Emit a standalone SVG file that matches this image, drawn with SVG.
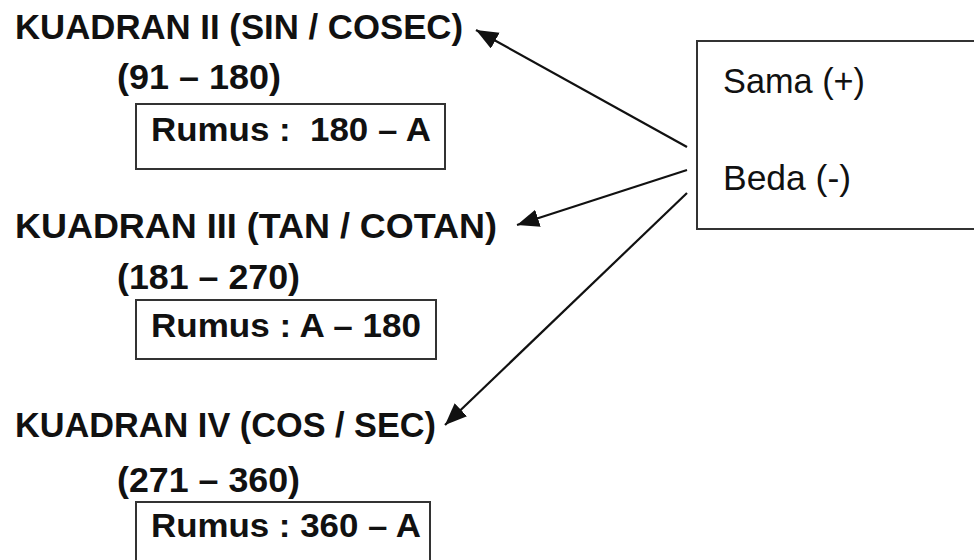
<svg xmlns="http://www.w3.org/2000/svg" width="974" height="560" viewBox="0 0 974 560">
  <style>
    .head { font-family: "Liberation Sans", Arial, sans-serif; font-weight: bold; font-size: 35px; fill: #111; }
    .range { font-family: "Liberation Sans", Arial, sans-serif; font-weight: bold; font-size: 35px; fill: #111; }
    .rumus { font-family: "Liberation Sans", Arial, sans-serif; font-weight: bold; font-size: 33px; fill: #111; white-space: pre; }
    .sign { font-family: "Liberation Sans", Arial, sans-serif; font-size: 35px; fill: #111; }
    .box { fill: #fff; stroke: #333; stroke-width: 2; }
    .link { stroke: #111; stroke-width: 2.2; fill: none; marker-end: url(#head); }
  </style>
  <defs>
    <marker id="head" markerUnits="userSpaceOnUse" markerWidth="24" markerHeight="20" refX="22" refY="9" orient="auto">
      <path d="M0,0 L22,9 L0,18 Z" fill="#111"/>
    </marker>
  </defs>
  <rect width="974" height="560" fill="#fff"/>

  <g id="kuadran-2">
    <text class="head" x="15" y="39" textLength="448" lengthAdjust="spacingAndGlyphs">KUADRAN II (SIN / COSEC)</text>
    <text class="range" x="117" y="89" textLength="164" lengthAdjust="spacingAndGlyphs">(91 – 180)</text>
    <rect class="box" x="136" y="104" width="309" height="65"/>
    <text class="rumus" x="151" y="141" textLength="280" lengthAdjust="spacingAndGlyphs">Rumus :  180 – A</text>
  </g>

  <g id="kuadran-3">
    <text class="head" x="15" y="238" textLength="482" lengthAdjust="spacingAndGlyphs">KUADRAN III (TAN / COTAN)</text>
    <text class="range" x="117" y="289" textLength="183" lengthAdjust="spacingAndGlyphs">(181 – 270)</text>
    <rect class="box" x="136" y="300" width="300" height="59"/>
    <text class="rumus" x="151" y="337" textLength="270" lengthAdjust="spacingAndGlyphs">Rumus : A – 180</text>
  </g>

  <g id="kuadran-4">
    <text class="head" x="15" y="437" textLength="421" lengthAdjust="spacingAndGlyphs">KUADRAN IV (COS / SEC)</text>
    <text class="range" x="117" y="492" textLength="183" lengthAdjust="spacingAndGlyphs">(271 – 360)</text>
    <rect class="box" x="136" y="502" width="294" height="70"/>
    <text class="rumus" x="151" y="537" textLength="270" lengthAdjust="spacingAndGlyphs">Rumus : 360 – A</text>
  </g>

  <g id="tanda">
    <rect class="box" x="697" y="41" width="290" height="188"/>
    <text class="sign" x="723" y="93" textLength="142" lengthAdjust="spacingAndGlyphs">Sama (+)</text>
    <text class="sign" x="723" y="190" textLength="128" lengthAdjust="spacingAndGlyphs">Beda (-)</text>
  </g>

  <g id="connectors">
    <line class="link" x1="687" y1="147" x2="476" y2="30"/>
    <line class="link" x1="687" y1="170" x2="517" y2="225"/>
    <line class="link" x1="687" y1="193" x2="445" y2="425"/>
  </g>
</svg>
